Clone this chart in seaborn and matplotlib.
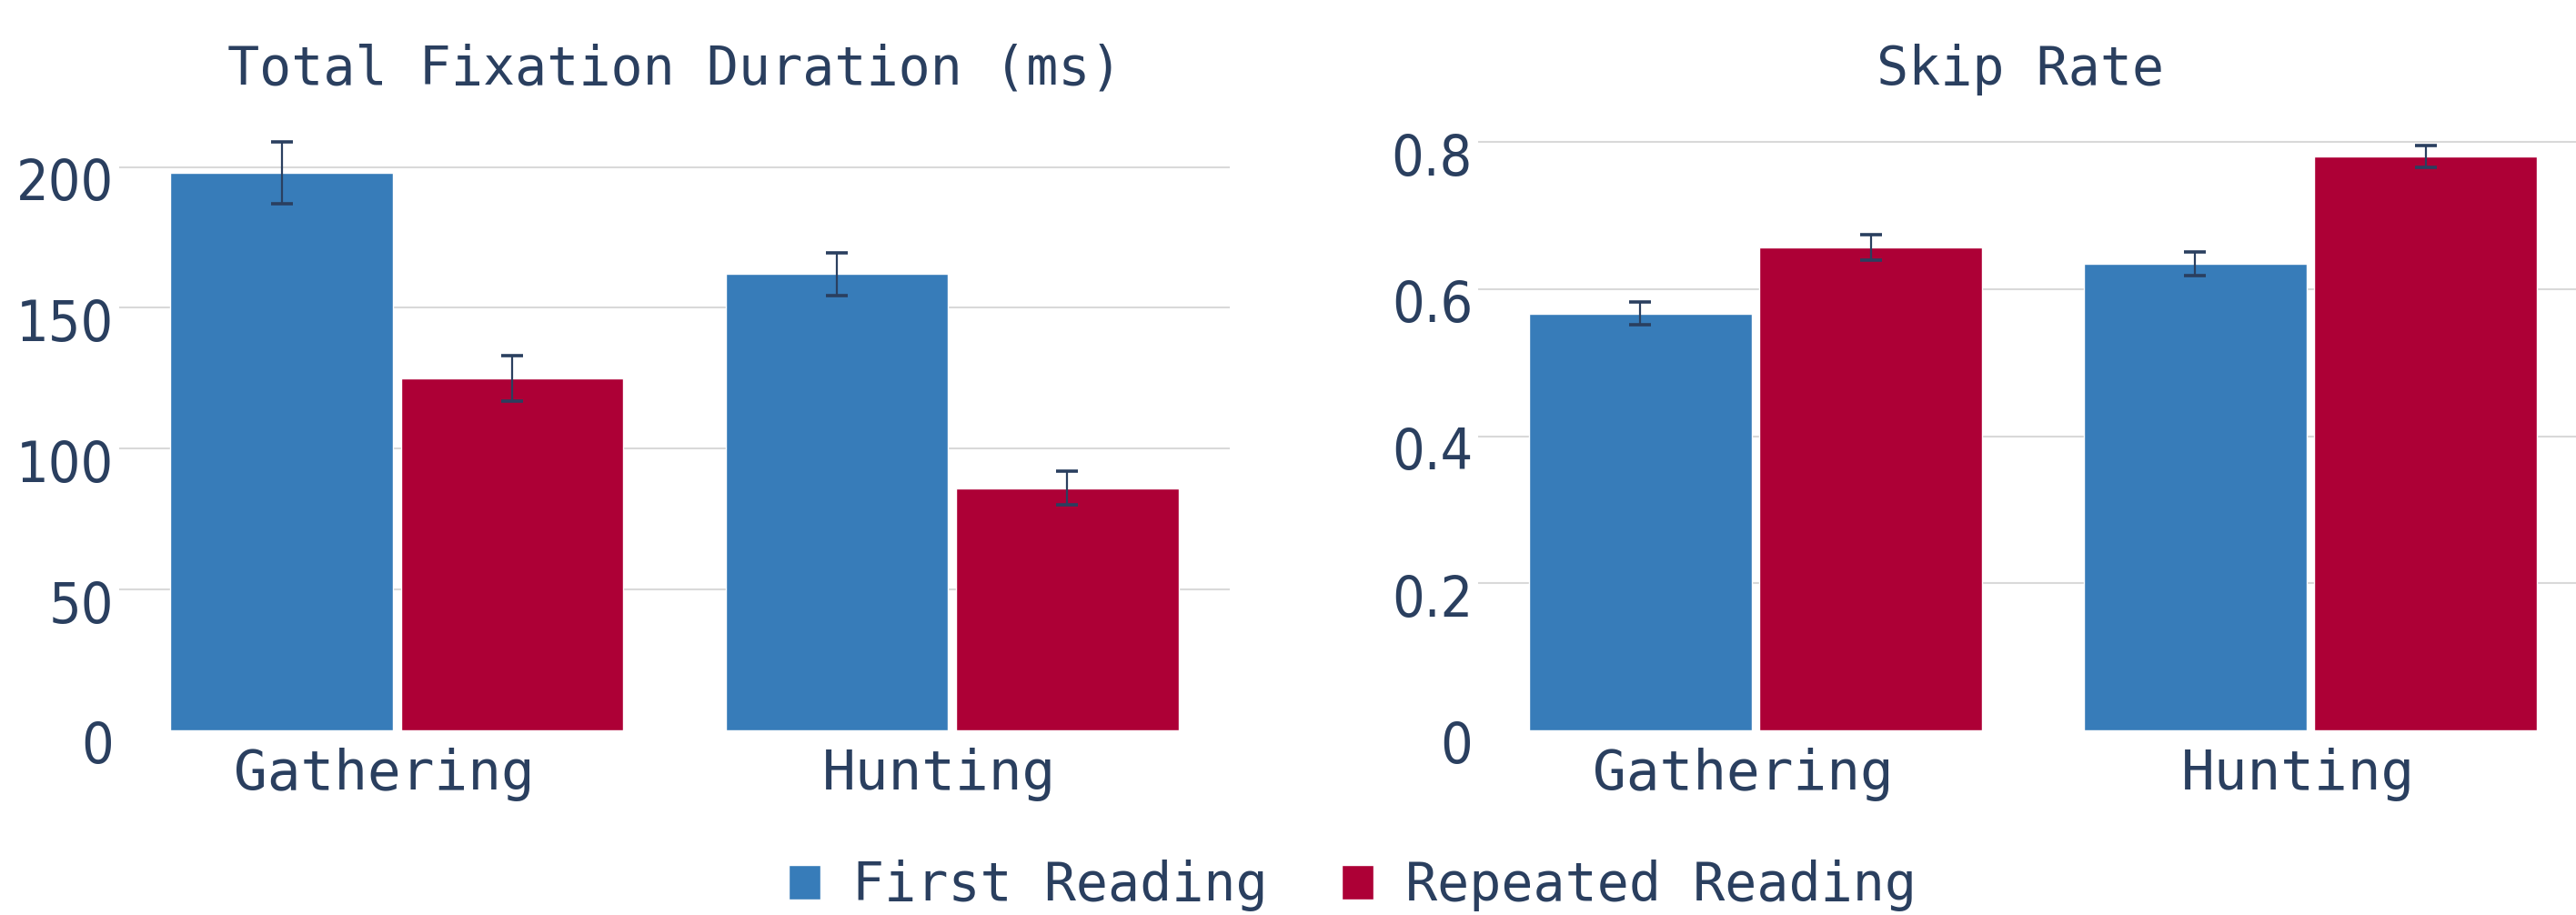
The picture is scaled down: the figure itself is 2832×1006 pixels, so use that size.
import numpy as np
import pandas as pd
import matplotlib
matplotlib.use("Agg")
import matplotlib.pyplot as plt
import matplotlib.transforms as mtransforms
from matplotlib.container import BarContainer
import seaborn as sns

# ---- data ----
categories = ["Gathering", "Hunting"]
series = ["First Reading", "Repeated Reading"]
tfd_first = [198, 162]
tfd_repeated = [125, 86]
tfd_first_err = [11, 7.5]
tfd_repeated_err = [8, 6]
skip_first = [0.567, 0.635]
skip_repeated = [0.657, 0.780]
skip_first_err = [0.015, 0.016]
skip_repeated_err = [0.017, 0.015]
tfd_ticks = [0, 50, 100, 150, 200]
tfd_ticklabels = ["0", "50", "100", "150", "200"]
skip_ticks = [0, 0.2, 0.4, 0.6, 0.8]
skip_ticklabels = ["0", "0.2", "0.4", "0.6", "0.8"]
titles = ["Total Fixation Duration (ms)", "Skip Rate"]

colors = ["#377cb9", "#ad0036"]
text_color = "#2a3f5f"
grid_color = "#d9d9d9"

sns.set_style("white")
plt.rcParams["font.family"] = ["DejaVu Sans"]
spaced_font = ["DejaVu Sans Mono", "DejaVu Sans"]

W, H, DPI = 2832, 1006, 100
fig = plt.figure(figsize=(W / DPI, H / DPI), dpi=DPI)

def make_df(first, repeated):
    return pd.DataFrame({
        "category": categories * 2,
        "series": [series[0]] * 2 + [series[1]] * 2,
        "value": list(first) + list(repeated),
    })

panels = [
    dict(df=make_df(tfd_first, tfd_repeated), err=[tfd_first_err, tfd_repeated_err],
         ticks=tfd_ticks, labels=tfd_ticklabels, ylim=(0, 214.1),
         rect=[131 / W, 1 - 803 / H, 1221 / W, 663 / H]),
    dict(df=make_df(skip_first, skip_repeated), err=[skip_first_err, skip_repeated_err],
         ticks=skip_ticks, labels=skip_ticklabels, ylim=(0, 0.820),
         rect=[1625 / W, 1 - 803 / H, 1220 / W, 663 / H]),
]

y_offset = mtransforms.ScaledTranslation(0, -13 / DPI, fig.dpi_scale_trans)
x_offset = mtransforms.ScaledTranslation(-14 / DPI, 0, fig.dpi_scale_trans)
handles = labels = None
for i, p in enumerate(panels):
    ax = fig.add_axes(p["rect"])
    sns.barplot(data=p["df"], x="category", y="value", hue="series",
                hue_order=series, order=categories, palette=colors,
                width=0.83, gap=0.035, errorbar=None, saturation=1,
                ax=ax, zorder=2)
    bar_conts = [c for c in ax.containers if isinstance(c, BarContainer)]
    for h_idx, cont in enumerate(bar_conts):
        xs = [b.get_x() + b.get_width() / 2 for b in cont]
        ys = [b.get_height() for b in cont]
        ax.errorbar(xs, ys, yerr=p["err"][h_idx], fmt="none", ecolor=text_color,
                    elinewidth=1.6, capsize=8.3, capthick=2.6, zorder=3)
    ax.set_xlim(-0.5, 1.5)
    ax.set_ylim(*p["ylim"])
    ax.set_yticks(p["ticks"])
    ax.set_yticklabels(p["labels"])
    ax.yaxis.grid(True, color=grid_color, linewidth=1.5, zorder=0)
    ax.set_axisbelow(True)
    ax.get_ygridlines()[0].set_visible(False)
    for s in ax.spines.values():
        s.set_visible(False)
    ax.set_xlabel("")
    ax.set_ylabel("")
    ax.tick_params(axis="y", length=0, pad=4.3, labelsize=45, labelcolor=text_color)
    ax.tick_params(axis="x", length=0, pad=14.0, labelsize=44, labelcolor=text_color)
    for lab in ax.get_yticklabels():
        lab.set_family(["DejaVu Sans"])
        lab.set_stretch("condensed")
        lab.set_transform(lab.get_transform() + y_offset)
    for lab in ax.get_xticklabels():
        lab.set_family(spaced_font)
        lab.set_transform(lab.get_transform() + x_offset)
    handles, labels = ax.get_legend_handles_labels()
    ax.get_legend().remove()
    cx = (p["rect"][0] + p["rect"][2] / 2) if i == 0 else 2221 / W
    fig.text(cx, 1 - 93 / H, titles[i], ha="center", va="baseline",
             fontsize=42, color=text_color, family=spaced_font)

fig.legend(handles, labels, loc="center", bbox_to_anchor=(1487 / W, 1 - 974 / H),
           ncol=2, frameon=False, labelcolor=text_color,
           prop={"family": spaced_font, "size": 42},
           handlelength=0.6, handleheight=0.61, handletextpad=0.6,
           columnspacing=1.4, borderpad=0, borderaxespad=0)

fig.savefig("out.png", dpi=DPI, facecolor="white")
